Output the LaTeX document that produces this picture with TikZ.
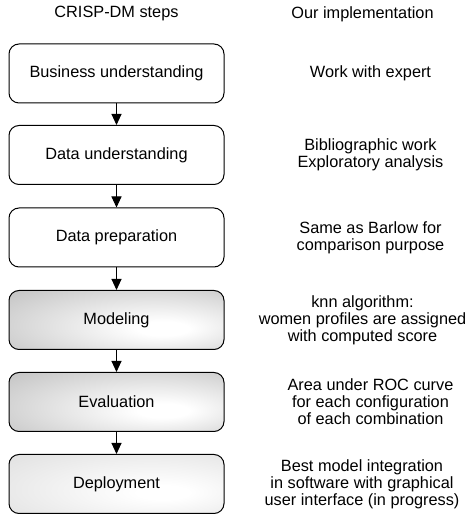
\documentclass[tikz,border=0pt]{standalone}
\usepackage{fontspec}
\setmainfont{Liberation Sans}
\usetikzlibrary{arrows.meta}
\pgfdeclareradialshading{darkshade}{\pgfpoint{12bp}{-8bp}}{color(0bp)=(white); color(6bp)=(white); color(66bp)=(black!40)}
\pgfdeclareradialshading{lightshade}{\pgfpoint{12bp}{-8bp}}{color(0bp)=(white); color(6bp)=(white); color(66bp)=(black!20)}
\begin{document}
\begin{tikzpicture}[x=1pt,y=1pt,
  txt/.style={font=\fontsize{16.3}{17}\selectfont, align=center, inner sep=0pt},
  stepbox/.style={draw=black, line width=1pt, rounded corners=10pt, minimum width=215pt, minimum height=59pt, fill=white, txt},
  darkbox/.style={stepbox, shading=darkshade},
  lightbox/.style={stepbox, shading=lightshade},
  conn/.style={line width=1pt, -{Triangle[width=10pt,length=11pt]}}]
\useasboundingbox (0,0) rectangle (470,514);
\node[txt] (h1) at (116.5,500) {CRISP-DM steps};
\node[txt] (h2) at (362.5,500) {Our implementation};
\node[stepbox] (b1) at (116.5,440.5) {Business understanding};
\node[stepbox] (b2) at (116.5,359) {Data understanding};
\node[stepbox] (b3) at (116.5,276.5) {Data preparation};
\node[darkbox] (b4) at (116.5,194) {Modeling};
\node[darkbox] (b5) at (116.5,112) {Evaluation};
\node[lightbox] (b6) at (116.5,30) {Deployment};
\draw[conn] (b1) -- (b2);
\draw[conn] (b2) -- (b3);
\draw[conn] (b3) -- (b4);
\draw[conn] (b4) -- (b5);
\draw[conn] (b5) -- (b6);
\node[txt] (r1) at (370.5,440.5) {Work with expert};
\node[txt] (r2) at (370.5,359) {Bibliographic work\\Exploratory analysis};
\node[txt] (r3) at (370.5,276.5) {Same as Barlow for\\comparison purpose};
\node[txt] (r4) at (362.5,194) {knn algorithm:\\women profiles are assigned\\with computed score};
\node[txt] (r5) at (370.5,112) {Area under ROC curve\\for each configuration\\of each combination};
\node[txt] (r6) at (362,30) {Best model integration\\in software with graphical\\user interface (in progress)};
\end{tikzpicture}
\end{document}
